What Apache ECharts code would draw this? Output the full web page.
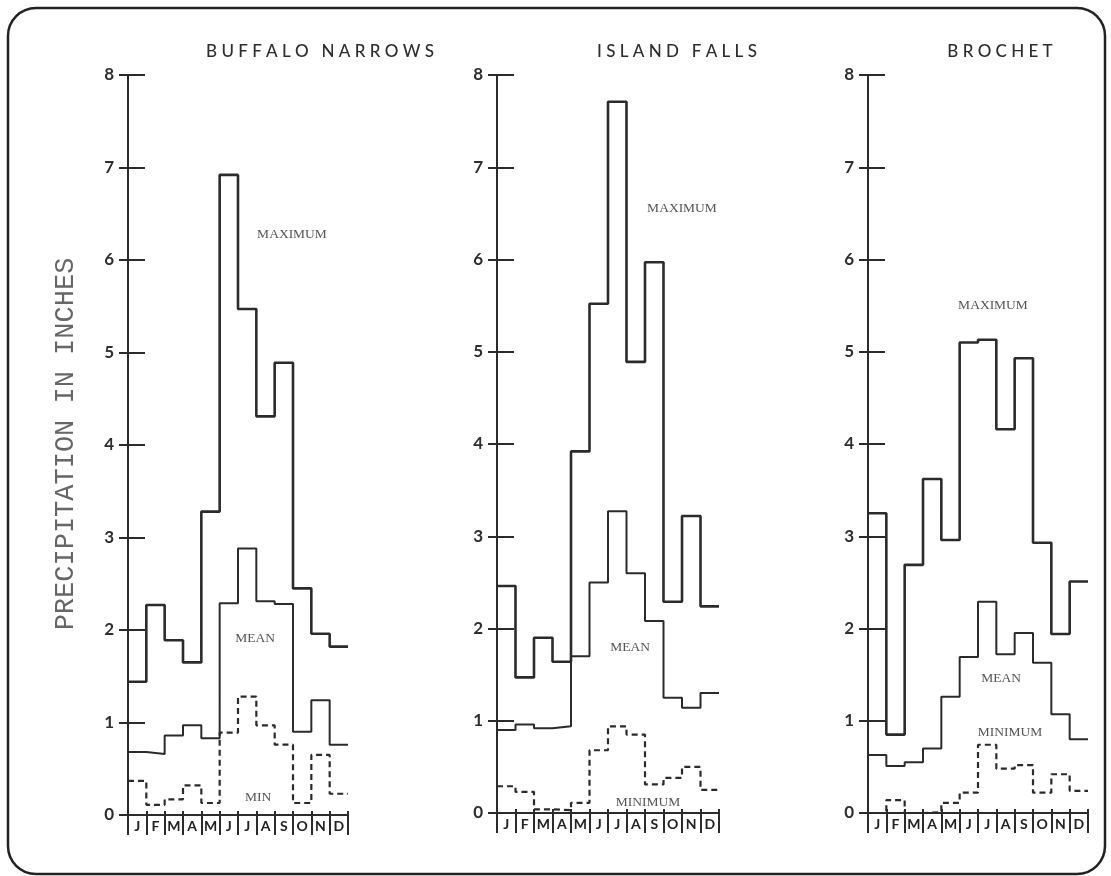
<!DOCTYPE html>
<html>
<head>
<meta charset="utf-8">
<script src="https://cdn.jsdelivr.net/npm/echarts@6/dist/echarts.min.js"></script>
<style>html,body{margin:0;padding:0;background:#fff}#c{width:1111px;height:876px}</style>
</head>
<body>
<div id="c"></div>
<script>
// ---- data ----
const months = ['J','F','M','A','M','J','J','A','S','O','N','D'];
const stations = ['BUFFALO NARROWS', 'ISLAND FALLS', 'BROCHET'];

const bnMax  = [1.44, 2.27, 1.89, 1.65, 3.28, 6.92, 5.47, 4.31, 4.89, 2.45, 1.96, 1.82];
const bnMean = [0.68, 0.66, 0.86, 0.97, 0.83, 2.29, 2.88, 2.31, 2.28, 0.90, 1.24, 0.76];
const bnMin  = [0.37, 0.11, 0.17, 0.32, 0.13, 0.89, 1.28, 0.97, 0.76, 0.13, 0.65, 0.23];

const ifMax  = [2.46, 1.47, 1.90, 1.64, 3.92, 5.52, 7.71, 4.89, 5.97, 2.29, 3.22, 2.24];
const ifMean = [0.90, 0.96, 0.92, 0.94, 1.70, 2.50, 3.27, 2.60, 2.08, 1.25, 1.14, 1.30];
const ifMin  = [0.29, 0.23, 0.04, 0.03, 0.11, 0.68, 0.94, 0.85, 0.31, 0.38, 0.50, 0.25];

const brMax  = [3.25, 0.85, 2.69, 3.62, 2.96, 5.10, 5.13, 4.16, 4.93, 2.93, 1.94, 2.51];
const brMean = [0.63, 0.51, 0.55, 0.70, 1.26, 1.69, 2.29, 1.72, 1.95, 1.63, 1.07, 0.80];
const brMin  = [0.00, 0.14, 0.00, 0.01, 0.11, 0.22, 0.74, 0.48, 0.52, 0.22, 0.42, 0.24];

const yMin = 0, yMax = 8, yInterval = 1;

// ---- build ----
function steps(vals) {
  const pts = [];
  vals.forEach((v, i) => { pts.push([i, v]); pts.push([i + 1, v]); });
  return pts;
}

const panels = [
  {max: bnMax, mean: bnMean, min: bnMin, grid: {left: 128, top: 75, width: 220, height: 740}},
  {max: ifMax, mean: ifMean, min: ifMin, grid: {left: 497, top: 75, width: 222, height: 738}},
  {max: brMax, mean: brMean, min: brMin, grid: {left: 868, top: 75, width: 220, height: 738}}
];

const ink = '#2b2b2b';
const grids = [], xAxes = [], yAxes = [], series = [];

panels.forEach((p, g) => {
  grids.push(Object.assign({containLabel: false}, p.grid));
  // value axis for the step lines (only short upward ticks shown)
  xAxes.push({type: 'value', gridIndex: g, min: 0, max: 12, interval: 1, position: 'bottom',
    axisLine: {show: false}, axisLabel: {show: false}, splitLine: {show: false},
    axisTick: {show: true, inside: true, length: 4, lineStyle: {color: ink, width: 2}}});
  // visible month axis
  xAxes.push({
    type: 'category', gridIndex: g, data: months, boundaryGap: true, position: 'bottom',
    axisLine: {show: true, lineStyle: {color: ink, width: 2}},
    axisTick: {show: true, length: 20, alignWithLabel: false, lineStyle: {color: ink, width: 2}},
    axisLabel: {show: true, margin: 4, color: '#222', fontFamily: 'Lato', fontWeight: 'bold', fontSize: 14, interval: 0},
    splitLine: {show: false}
  });
  yAxes.push({
    type: 'value', gridIndex: g, min: yMin, max: yMax, interval: yInterval, position: 'left',
    axisLine: {show: true, lineStyle: {color: ink, width: 2}},
    axisTick: {show: true, inside: true, length: 17, lineStyle: {color: ink, width: 2}},
    axisLabel: {show: true, margin: 14, color: '#2e2e2e', fontFamily: 'Lato', fontWeight: 'bold', fontSize: 17},
    splitLine: {show: false}
  });
  yAxes.push({
    type: 'value', gridIndex: g, min: yMin, max: yMax, interval: yInterval, position: 'left', offset: 0,
    axisLine: {show: false},
    axisTick: {show: true, inside: false, length: 9, lineStyle: {color: ink, width: 2}},
    axisLabel: {show: false},
    splitLine: {show: false}
  });
  const xi = g * 2, yi = g * 2;
  const common = {type: 'line', xAxisIndex: xi, yAxisIndex: yi, symbol: 'none', silent: true, animation: false};
  series.push(Object.assign({}, common, {name: 'max' + g, data: steps(p.max), lineStyle: {color: ink, width: 2.6}}));
  series.push(Object.assign({}, common, {name: 'mean' + g, data: steps(p.mean), lineStyle: {color: ink, width: 2}}));
  series.push(Object.assign({}, common, {name: 'min' + g, data: steps(p.min), lineStyle: {color: ink, width: 2.2, type: [6, 4]}}));
});

function spaced(s) {
  return s.split(' ').map(w => w.split('').join(' ')).join('   ');
}

const titleCenters = [320, 677, 1000];
const graphic = [
  {type: 'rect', shape: {x: 8, y: 8, width: 1097, height: 866, r: 28}, style: {fill: 'none', stroke: '#222', lineWidth: 2.5}, silent: true},
  {type: 'text', x: 66, y: 444, rotation: Math.PI / 2,
   style: {text: 'PRECIPITATION IN INCHES', font: '27px "Liberation Mono"', fill: '#666', textAlign: 'center', textVerticalAlign: 'middle'}}
];
stations.forEach((s, i) => {
  graphic.push({type: 'text', x: titleCenters[i], y: 52,
    style: {text: spaced(s), font: '500 17px Lato', fill: '#2e2e2e', textAlign: 'center', textVerticalAlign: 'middle'}});
});
const inner = [
  ['MAXIMUM', 292, 234], ['MEAN', 255, 638], ['MIN', 258, 797],
  ['MAXIMUM', 682, 208], ['MEAN', 630, 647], ['MINIMUM', 648, 802],
  ['MAXIMUM', 993, 305], ['MEAN', 1001, 678], ['MINIMUM', 1010, 732]
];
inner.forEach(t => {
  graphic.push({type: 'text', x: t[1], y: t[2],
    style: {text: t[0], font: '13.5px "Liberation Serif"', fill: '#555', textAlign: 'center', textVerticalAlign: 'middle'}});
});

const chart = echarts.init(document.getElementById('c'), null, {renderer: 'canvas'});
chart.setOption({
  backgroundColor: '#fff',
  animation: false,
  grid: grids, xAxis: xAxes, yAxis: yAxes, series: series, graphic: graphic
});
</script>
</body>
</html>
